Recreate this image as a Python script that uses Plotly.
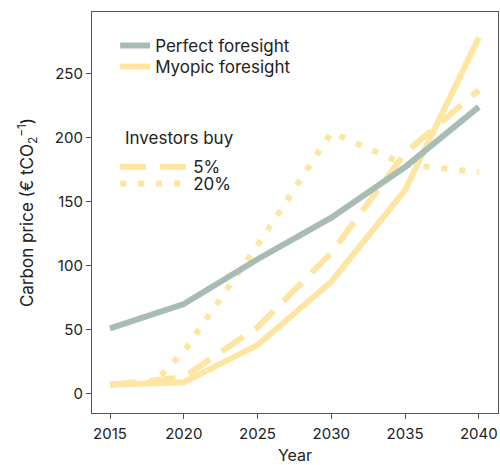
import plotly.graph_objects as go

years = [2015, 2020, 2025, 2030, 2035, 2040]
perfect = [51, 70, 105, 137.5, 177, 224]
myopic = [7, 9, 38, 87.5, 159, 278]
buy5_years = [2015, 2020, 2025, 2030, 2035, 2040]
buy5 = [7, 13, 52, 110, 188, 237]
buy20_years = [2015, 2018, 2020, 2025, 2030, 2035, 2040]
buy20 = [7, 9, 33, 116, 204, 179, 173]

GRAY = "#a8bcb3"
YEL = "#fee6a2"
FONT = "Inter, Lato, sans-serif"

fig = go.Figure()
fig.add_trace(go.Scatter(x=buy20_years, y=buy20, mode="lines", name="20%",
                         line=dict(color=YEL, width=6, dash="6px,12px"), legend="legend4"))
fig.add_trace(go.Scatter(x=buy5_years, y=buy5, mode="lines", name="5%",
                         line=dict(color=YEL, width=6, dash="26px,14px"), legend="legend3"))
fig.add_trace(go.Scatter(x=years, y=myopic, mode="lines", name="Myopic foresight",
                         line=dict(color=YEL, width=6), legend="legend2"))
fig.add_trace(go.Scatter(x=years, y=perfect, mode="lines", name="Perfect foresight",
                         line=dict(color=GRAY, width=6), legend="legend", showlegend=True))

axis_common = dict(showgrid=False, zeroline=False, showline=True, linecolor="#555",
                   linewidth=1.2, mirror=True, ticks="outside", ticklen=5,
                   tickcolor="#555", tickfont=dict(size=15, color="#222", family=FONT))

def leg(y, w):
    return dict(x=0.057, y=y, xanchor="left", yanchor="top", bgcolor="rgba(0,0,0,0)",
                font=dict(size=17, color="#222"), itemwidth=w, visible=True)

fig.update_layout(
    width=500, height=465, autosize=False, showlegend=True,
    margin=dict(l=92, r=2, t=12, b=52, autoexpand=False),
    plot_bgcolor="white", paper_bgcolor="white",
    font=dict(family=FONT, color="#222"),
    xaxis=dict(range=[2013.78, 2041.3], tickvals=years, automargin=False, ticklabelstandoff=2,
               title=dict(text="Year", font=dict(size=16), standoff=11), **axis_common),
    yaxis=dict(range=[-15, 298], tickvals=[0, 50, 100, 150, 200, 250], automargin=False,
               title=dict(text="Carbon price (€ tCO<sub>2</sub><sup>−1</sup>)", font=dict(size=17), standoff=16),
               **axis_common),
    legend=leg(0.960, 30),
    legend2=leg(0.908, 30),
    legend3=leg(0.658, 68),
    legend4=leg(0.616, 68),
    annotations=[dict(text="Investors buy", xref="paper", yref="paper", x=0.076, y=0.686,
                      xanchor="left", yanchor="middle", showarrow=False,
                      font=dict(size=17, color="#222"))],
)

fig.write_html("out.html", config={"displayModeBar": False},
               post_script="document.body.style.margin='0';")
